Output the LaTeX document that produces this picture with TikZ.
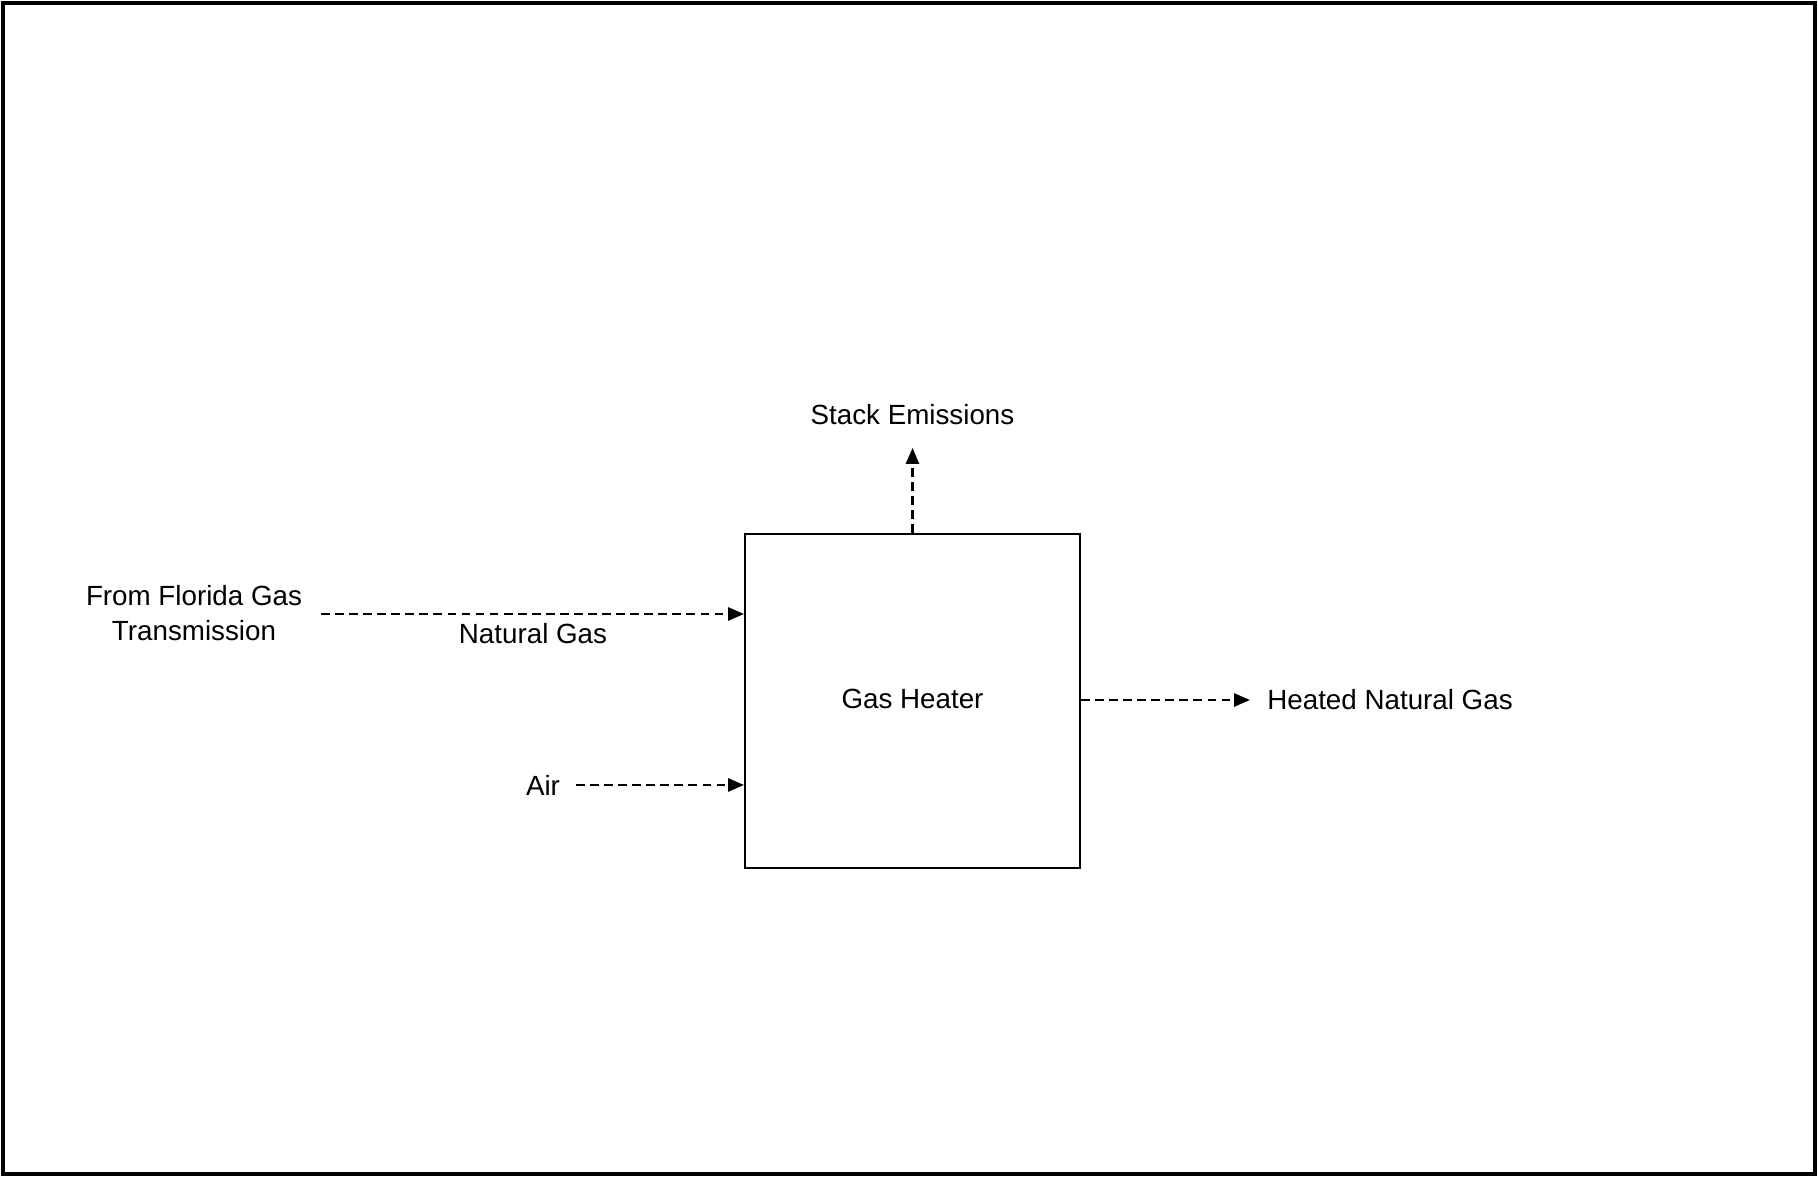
\documentclass[tikz,border=0pt]{standalone}
\usepackage{fontspec}
\setmainfont{Liberation Sans}
\usetikzlibrary{arrows.meta,positioning}

\begin{document}
\begin{tikzpicture}[x=0.02cm,y=0.02cm,
  lbl/.style={font=\fontsize{15.8}{20}\selectfont,inner sep=0pt},
  unitbox/.style={draw,line width=1.2pt,minimum width=6.7cm,minimum height=6.68cm,inner sep=0pt},
  flow/.style={line width=1.4pt,dash pattern=on 5pt off 3pt,-{Triangle[length=9pt,width=7.4pt]}}]
\useasboundingbox (0,0) rectangle (1818,1176);
\draw[line width=2.2pt] (3,2) rectangle (1815,1173);
% heater
\node[unitbox] (heater) at (912.5,475) {};
\node[lbl] (heatertxt) at (912.5,477) {Gas Heater};
% labels
\node[lbl,align=center] (fgt) at (194,563) {From Florida Gas\\Transmission};
\node[lbl] (ng) at (533,542) {Natural Gas};
\node[lbl] (air) at (543,391) {Air};
\node[lbl] (stack) at (912.5,761) {Stack Emissions};
\node[lbl,anchor=west] (hng) at (1267,476) {Heated Natural Gas};
\coordinate (ngstart) at (321,562);
\coordinate (airstart) at (576,391);
\coordinate (stacktip) at (912.5,728);
\coordinate (hngtip) at (1250,476);
% streams
\draw[flow] (ngstart) -- (ngstart -| heater.west);
\draw[flow] (airstart) -- (airstart -| heater.west);
\draw[flow] (heater.north) -- (stacktip);
\draw[flow] (heater.east |- hngtip) -- (hngtip);
\end{tikzpicture}
\end{document}
